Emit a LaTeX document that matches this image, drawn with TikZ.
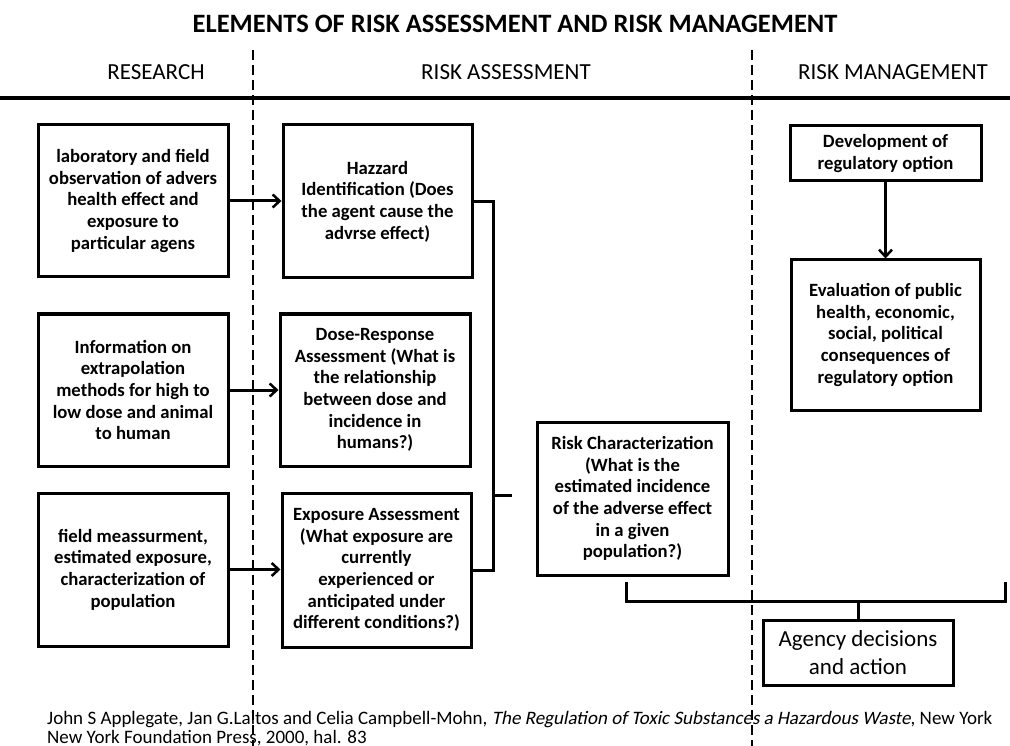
\documentclass[tikz,border=0pt]{standalone}
\usepackage{fontspec}
\setmainfont{Carlito}
\newfontfamily\slantfont[FakeSlant=0.2]{Carlito}
\usetikzlibrary{arrows.meta}
\begin{document}
\begin{tikzpicture}[x=1pt,y=-1pt,
  box/.style={draw, line width=3pt, inner sep=0pt, align=center,
    font=\fontsize{18.7}{21.7}\selectfont\bfseries},
  conn/.style={line width=3pt},
  arr/.style={conn, -{Straight Barb[length=7pt,width=13pt,line width=2.5pt]}},
  divider/.style={line width=2.6pt, dash pattern=on 10pt off 5pt},
  hdr/.style={font=\fontsize{23}{27}\selectfont, inner sep=0pt},
  foot/.style={font=\fontsize{19}{19}\selectfont, inner sep=0pt, anchor=base west},
]
\path[use as bounding box] (0,0) rectangle (1010,746);
\clip (0,0) rectangle (1010,746);

% title and headers
\node[font=\fontsize{26.5}{30}\selectfont\bfseries, inner sep=0pt] (title) at (515,24)
  {ELEMENTS OF RISK ASSESSMENT AND RISK MANAGEMENT};
\node[hdr] (hres) at (156,72) {RESEARCH};
\node[hdr] (hra) at (506,72) {RISK ASSESSMENT};
\node[hdr] (hrm) at (893,72) {RISK MANAGEMENT};

\coordinate (hl) at (0,98);
\coordinate (hr) at (1010,98);
\draw[line width=3.2pt] (hl) -- (hr);

\coordinate (d1t) at (253,50);
\coordinate (d1b) at (253,746);
\coordinate (d2t) at (752,50);
\coordinate (d2b) at (752,746);
\draw[divider] (d1t) -- (d1b);
\draw[divider] (d2t) -- (d2b);

% research column
\node[box, minimum width=190pt, minimum height=152pt] (lab) at (133,201)
  {laboratory and field\\observation of advers\\health effect and\\exposure to\\particular agens};
\node[box, minimum width=190pt, minimum height=152pt] (info) at (133,390)
  {Information on\\extrapolation\\methods for high to\\low dose and animal\\to human};
\node[box, minimum width=190pt, minimum height=153pt] (field) at (133,569.5)
  {field meassurment,\\estimated exposure,\\characterization of\\population};

% risk assessment column
\node[box, minimum width=189pt, minimum height=153pt] (haz) at (377.5,201.5)
  {Hazzard\\Identification (Does\\the agent cause the\\advrse effect)};
\node[box, minimum width=190pt, minimum height=152pt] (dose) at (375,390)
  {Dose-Response\\Assessment (What is\\the relationship\\between dose and\\incidence in\\humans?)};
\node[box, minimum width=189pt, minimum height=154pt] (expo) at (376.5,570)
  {Exposure Assessment\\(What exposure are\\currently\\experienced or\\anticipated under\\different conditions?)};
\node[box, minimum width=191pt, minimum height=153pt] (rc) at (632.5,498.5)
  {Risk Characterization\\(What is the\\estimated incidence\\of the adverse effect\\in a given\\population?)};

% risk management column
\node[box, minimum width=191pt, minimum height=55pt] (dev) at (885.5,153.5)
  {Development of\\regulatory option};
\node[box, minimum width=189pt, minimum height=150pt] (eval) at (885.5,335)
  {Evaluation of public\\health, economic,\\social, political\\consequences of\\regulatory option};
\node[box, minimum width=190pt, minimum height=65pt,
  font=\fontsize{23}{28}\selectfont] (agency) at (858,652.5)
  {Agency decisions\\and action};

% arrows
\draw[arr] (lab.east) -- (lab.east -| haz.west);
\draw[arr] (info.east) -- (info.east -| dose.west);
\draw[arr] (field.east) -- (field.east -| expo.west);
\draw[arr] (dev.south) -- (eval.north);

% bracket joining the three assessments
\draw[conn] (haz.east) -- ++(20,0) coordinate (bt) |- (expo.east);
\coordinate (tk1) at (493,495);
\coordinate (tk2) at (512,495);
\draw[conn] (tk1) -- (tk2);

% bracket to agency decisions
\coordinate (bl) at (626,582);
\coordinate (br) at (1005,582);
\draw[conn] (bl) -- ++(0,19) -| (br);
\draw[conn] (agency.north) -- ++(0,-19);

% footer
\node[foot] (f1) at (47,724)
  {John S Applegate, Jan G.Laitos and Celia Campbell-Mohn, {\slantfont The Regulation of Toxic Substances a Hazardous Waste}, New York};
\node[foot] (f2) at (47,743)
  {New York Foundation Press, 2000, hal. 83};
\end{tikzpicture}
\end{document}
